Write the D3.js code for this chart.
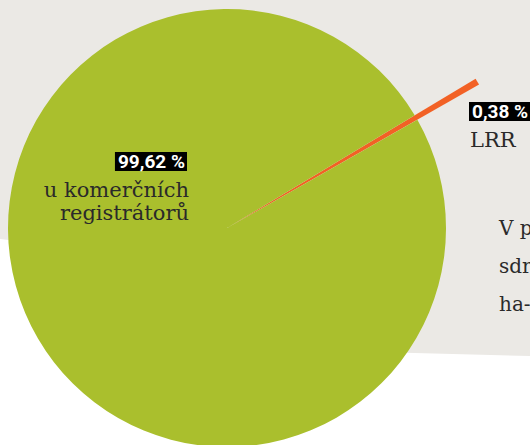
<!DOCTYPE html>
<html>
<head>
<meta charset="utf-8">
<script src="https://cdn.jsdelivr.net/npm/d3@7"></script>
<style>
  html, body { margin: 0; padding: 0; background: #fff; overflow: hidden; }
  svg { display: block; }
</style>
</head>
<body>
<svg id="chart"></svg>
<script>
const categories = ['LRR', 'u komerčních registrátorů']
const shares = [0.38, 99.62]
const shareLabels = ['0,38 %', '99,62 %']
const noteLines = ['V p', 'sdr', 'ha-']

buildChart()

function buildChart() {

    const width = 530
    const height = 445
    const deg = Math.PI / 180

    const cx = 227
    const cy = 228
    const radius = 219
    const pulled = 290
    const start = 59 * deg

    const colors = ['#f26125', '#aabf2d']

    const svg = d3.select('#chart')
        .attr('width', width)
        .attr('height', height)

    // grey backdrop, its lower corner hides behind the pie
    svg.append('path')
        .attr('d', d3.line()([[0, 0], [width, 0], [width, 356], [300, 350], [60, 246], [0, 239]]))
        .style('fill', '#ebe9e5')

    const pie = d3.pie()
        .sort(null)
        .startAngle(start)
        .endAngle(start + 2 * Math.PI)

    const arc = d3.arc().innerRadius(0)

    const g = svg.append('g')
        .attr('transform', `translate(${cx},${cy})`)

    g.selectAll('path.slice')
        .data(pie(shares))
        .join('path')
        .attr('class', 'slice')
        .attr('d', (d, i) => arc.outerRadius(i === 0 ? pulled : radius)(d))
        .style('fill', (d, i) => colors[i])

    // percentage boxes
    const tag = (x, y, text, anchor) => {
        const t = svg.append('text')
            .attr('x', x)
            .attr('y', y)
            .attr('text-anchor', anchor)
            .style('font-family', 'Roboto, sans-serif')
            .style('font-weight', 'bold')
            .style('font-size', '19px')
            .style('fill', '#fff')
            .text(text)
        const b = t.node().getBBox()
        svg.insert('rect', () => t.node())
            .attr('x', b.x - 3)
            .attr('y', y - 16)
            .attr('width', b.width + 5)
            .attr('height', 19)
            .style('fill', '#000')
    }

    const serif = (sel) => sel
        .style('font-family', '"DejaVu Serif", serif')
        .style('font-size', '21px')
        .style('fill', '#2a2a2a')

    tag(185, 168, shareLabels[1], 'end')
    const words = categories[1].split(' ')
    serif(svg.append('text').attr('x', 189).attr('y', 197).attr('text-anchor', 'end'))
        .text(words.slice(0, 2).join(' '))
    serif(svg.append('text').attr('x', 189).attr('y', 220).attr('text-anchor', 'end'))
        .text(words[2])

    tag(472, 118, shareLabels[0], 'start')
    serif(svg.append('text').attr('x', 470).attr('y', 147))
        .text(categories[0])

    noteLines.forEach((line, i) => {
        serif(svg.append('text').attr('x', 499).attr('y', 235 + i * 38))
            .style('font-size', '20px')
            .text(line)
    })
}
</script>
</body>
</html>
